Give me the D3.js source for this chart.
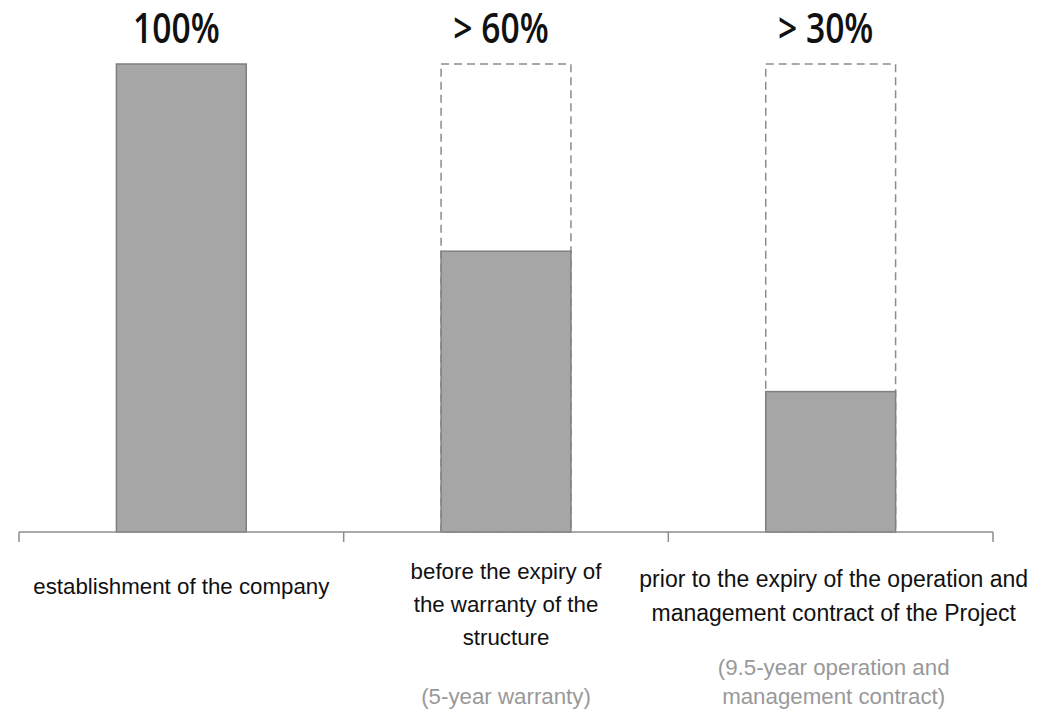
<!DOCTYPE html>
<html>
<head>
<meta charset="utf-8">
<script src="https://cdn.jsdelivr.net/npm/d3@7"></script>
<style>
  html, body { margin: 0; padding: 0; background: #fff; }
  svg { display: block; }
</style>
</head>
<body>
<svg id="chart" width="1048" height="710"></svg>
<script>
const categories = ["establishment", "warranty", "contract"];
const values = [100, 60, 30];
const valueLabels = ["100%", "> 60%", "> 30%"];
const categoryLines = [
  ["establishment of the company"],
  ["before the expiry of", "the warranty of the", "structure"],
  ["prior to the expiry of the operation and", "management contract of the Project"]
];
const noteLines = [
  [],
  ["(5-year warranty)"],
  ["(9.5-year operation and", "management contract)"]
];
const maxValue = 100;

const svg = d3.select("#chart");
const x = d3.scaleBand().domain(categories).range([19, 993]).paddingInner(0).paddingOuter(0);
const y = d3.scaleLinear().domain([0, maxValue]).range([532, 64]);
const bw = x.bandwidth() * 0.4;
const bx = c => x(c) + (x.bandwidth() - bw) / 2;

// dashed outline to 100%
svg.selectAll("rect.outline").data(categories.filter((c, i) => values[i] < maxValue))
  .join("rect").attr("class", "outline")
  .attr("x", c => bx(c)).attr("width", bw)
  .attr("y", y(maxValue)).attr("height", y(0) - y(maxValue))
  .attr("fill", "none").attr("stroke", "#8c8c8c").attr("stroke-width", 1.5)
  .attr("stroke-dasharray", "8,5");

// bars
svg.selectAll("rect.bar").data(categories)
  .join("rect").attr("class", "bar")
  .attr("x", c => bx(c)).attr("width", bw)
  .attr("y", (c, i) => y(values[i])).attr("height", (c, i) => y(0) - y(values[i]))
  .attr("fill", "#a6a6a6").attr("stroke", "#7f7f7f").attr("stroke-width", 1.5);

// axis
const axis = d3.axisBottom(x).tickSize(0).tickFormat("");
const g = svg.append("g").attr("transform", `translate(0,${y(0)})`).call(axis);
g.select(".domain").attr("stroke", "#8c8c8c").attr("stroke-width", 1.5).attr("d", `M${x.range()[0]},0H${x.range()[1]}`);
const edges = categories.map(c => x(c)).concat([x.range()[1]]);
g.selectAll("line.edge").data(edges).join("line").attr("class", "edge")
  .attr("x1", d => d).attr("x2", d => d).attr("y1", 0).attr("y2", 10)
  .attr("stroke", "#8c8c8c").attr("stroke-width", 1.5);

function addText(px, py, sx, txt, size, weight, fill, family) {
  svg.append("text")
    .attr("transform", `translate(${px},${py}) scale(${sx},1)`)
    .attr("text-anchor", "middle")
    .style("font-family", family)
    .style("font-weight", weight)
    .style("font-size", size + "px")
    .attr("fill", fill)
    .text(txt);
}

// value labels
categories.forEach((c, i) => {
  addText(x(c) + x.bandwidth() / 2 - 5, 43, 0.82, valueLabels[i], 41, 600, "#111", "'Open Sans', sans-serif");
});

// category labels
const narrow = "'Liberation Sans', Arial, sans-serif";
const labelBase = [594, 579, 587];
const lineGap = [33, 33, 34];
const noteBase = [0, 704, 675];
categories.forEach((c, i) => {
  const cx = x(c) + x.bandwidth() / 2 + (i === 2 ? 3 : 0);
  categoryLines[i].forEach((line, j) => {
    addText(cx, labelBase[i] + j * lineGap[i], i === 2 ? 1.0 : 0.97, line, 23, 400, "#111", narrow);
  });
  noteLines[i].forEach((line, j) => {
    addText(cx, noteBase[i] + j * 28.5, 0.97, line, 23, 400, "#999", narrow);
  });
});
</script>
</body>
</html>
